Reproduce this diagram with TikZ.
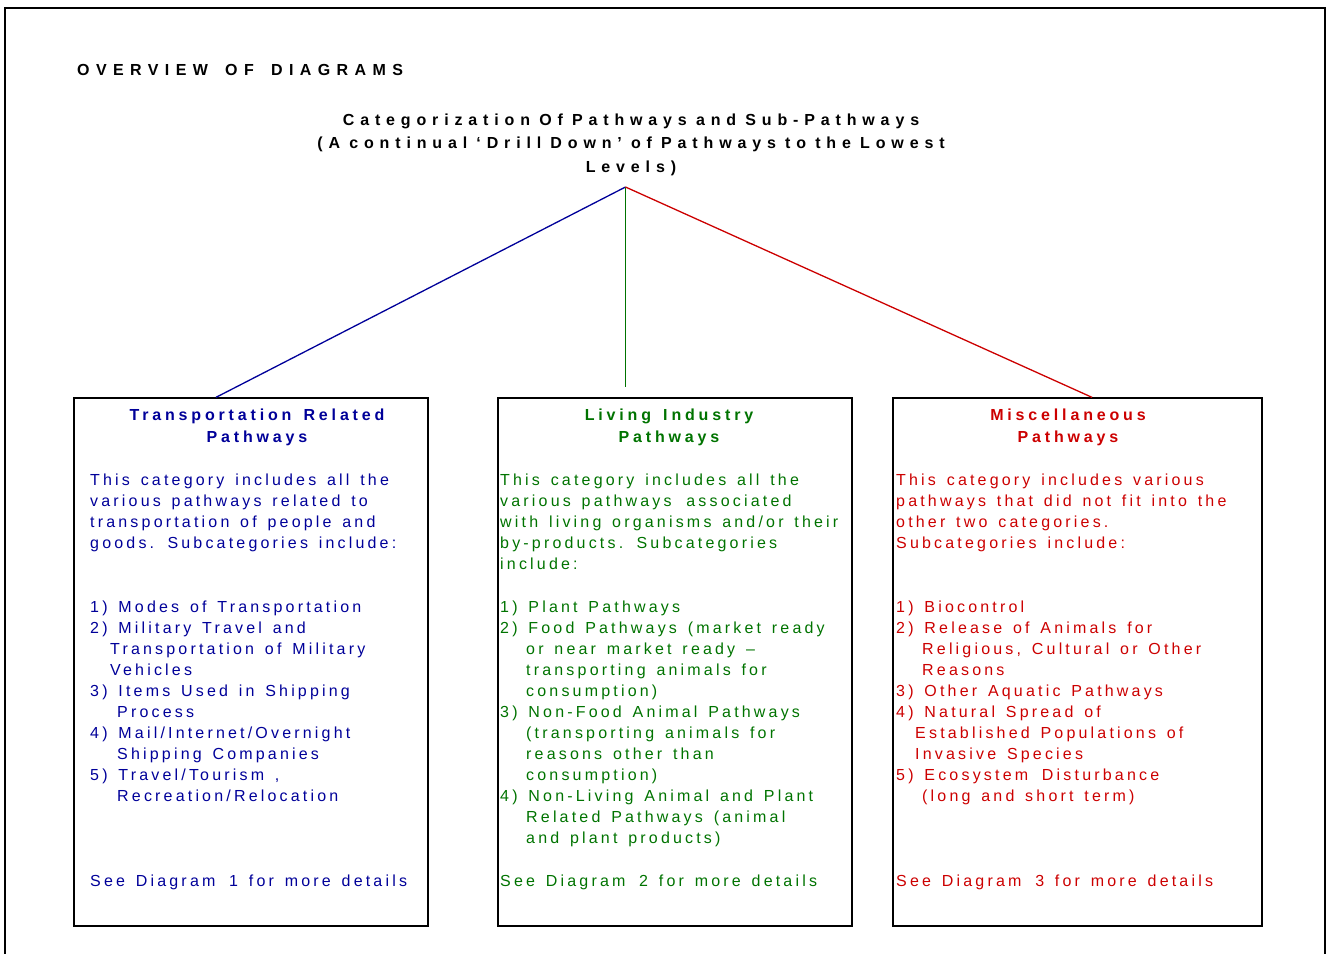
\documentclass[tikz,border=0pt]{standalone}
\usepackage{fontspec}
\setmainfont{Liberation Sans}
\newfontfamily\bodyff[LetterSpace=19.9,WordSpace=1.42]{Liberation Sans}
\newfontfamily\btff[LetterSpace=24,WordSpace=1.46]{Liberation Sans}
\newfontfamily\ttlff[LetterSpace=36.6,WordSpace=0.89]{Liberation Sans}
\newfontfamily\ovff[LetterSpace=40,WordSpace=1.59]{Liberation Sans}
\newcommand\mybodyfont{\bodyff\fontsize{16}{21}\selectfont}
\newcommand\mybtfont{\btff\bfseries\fontsize{16}{22}\selectfont}
\newcommand\myttlfont{\ttlff\bfseries\fontsize{16}{23.5}\selectfont}
\newcommand\myovfont{\ovff\bfseries\fontsize{16}{20}\selectfont}
\definecolor{tblue}{RGB}{0,0,153}
\definecolor{tgreen}{RGB}{0,115,0}
\definecolor{tred}{RGB}{204,0,0}
\tikzset{
  body/.style={anchor=base west, inner sep=0pt, text width=420pt, align=flush left, font=\mybodyfont},
  boxtitle/.style={anchor=base, inner sep=0pt, text width=360pt, align=flush center, font=\mybtfont},
  catbox/.style={draw=black, line width=1.3pt, inner sep=0pt},
  link/.style={line width=1.3pt},
}
\begin{document}
\begin{tikzpicture}[x=1pt,y=-1pt]
\useasboundingbox (0,0) rectangle (1327,953);
\draw[line width=2pt] (5,975) -- (5,8) -- (1325,8) -- (1325,975);

\node[anchor=base west, inner sep=0pt, font=\myovfont] (overview) at (77,75) {OVERVIEW OF DIAGRAMS};
\node[anchor=base, inner sep=0pt, text width=760pt, align=flush center, font=\myttlfont] (title) at (631,125)
  {Categorization Of Pathways and Sub-Pathways\\(A continual ‘Drill Down’ of Pathways to the Lowest\\Levels)};

\coordinate (root) at (625.5,187);

\node[catbox, minimum width=354pt, minimum height=528pt] (box1) at (251,662) {};
\node[catbox, minimum width=354pt, minimum height=528pt] (box2) at (675,662) {};
\node[catbox, minimum width=369pt, minimum height=528pt] (box3) at (1077.5,662) {};

\draw[link, tblue] (root) -- ([xshift=-35pt]box1.north);
\draw[link, tgreen, line width=1.7pt] (root) -- ([xshift=-49.5pt,yshift=10pt]box2.north);
\draw[link, tred] (root) -- ([xshift=14.5pt]box3.north);

% Box 1
\node[boxtitle, tblue] (t1) at (257,420) {Transportation Related\\Pathways};
\node[body, tblue] (d1) at (90,485) {This category includes all the\\various pathways related to\\transportation of people and\\goods. Subcategories include:};
\node[body, tblue] (i1) at (90,612) {1) Modes of Transportation\\2) Military Travel and\\\hspace*{20pt}Transportation of Military\\\hspace*{20pt}Vehicles\\3) Items Used in Shipping\\\hspace*{27pt}Process\\4) Mail/Internet/Overnight\\\hspace*{27pt}Shipping Companies\\5) Travel/Tourism ,\\\hspace*{27pt}Recreation/Relocation};
\node[body, tblue] (s1) at (90,886) {See Diagram\hspace{3pt} 1 for more details};

% Box 2
\node[boxtitle, tgreen] (t2) at (669,420) {Living Industry\\Pathways};
\node[body, tgreen] (d2) at (500,485) {This category includes all the\\various pathways\hspace{4pt} associated\\with living organisms and/or their\\by-products. Subcategories\\include:};
\node[body, tgreen] (i2) at (500,612) {1) Plant Pathways\\2) Food Pathways (market ready\\\hspace*{26pt}or near market ready –\\\hspace*{26pt}transporting animals for\\\hspace*{26pt}consumption)\\3) Non-Food Animal Pathways\\\hspace*{26pt}(transporting animals for\\\hspace*{26pt}reasons other than\\\hspace*{26pt}consumption)\\4) Non-Living Animal and Plant\\\hspace*{26pt}Related Pathways (animal\\\hspace*{26pt}and plant products)};
\node[body, tgreen] (s2) at (500,886) {See Diagram\hspace{3pt} 2 for more details};

% Box 3
\node[boxtitle, tred] (t3) at (1068,420) {Miscellaneous\\Pathways};
\node[body, tred] (d3) at (896,485) {This category includes various\\pathways that did not fit into the\\other two categories.\\Subcategories include:};
\node[body, tred] (i3) at (896,612) {1) Biocontrol\\2) Release of Animals for\\\hspace*{26pt}Religious, Cultural or Other\\\hspace*{26pt}Reasons\\3) Other Aquatic Pathways\\4) Natural Spread of\\\hspace*{19pt}Established Populations of\\\hspace*{19pt}Invasive Species\\5) Ecosystem\hspace{3pt} Disturbance\\\hspace*{26pt}(long and short term)};
\node[body, tred] (s3) at (896,886) {See Diagram\hspace{3pt} 3 for more details};
\end{tikzpicture}
\end{document}
